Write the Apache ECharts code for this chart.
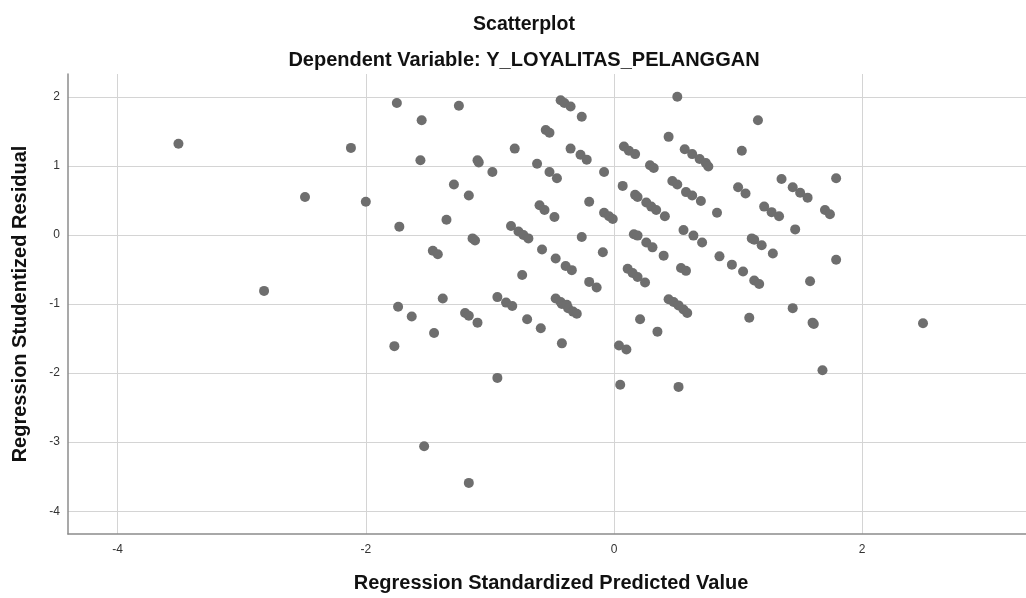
<!DOCTYPE html>
<html>
<head>
<meta charset="utf-8">
<script src="https://cdn.jsdelivr.net/npm/echarts@6/dist/echarts.min.js"></script>
<style>
  html, body { margin: 0; padding: 0; background: #fff; }
  #chart { width: 1026px; height: 598px; }
</style>
</head>
<body>
<div id="chart"></div>
<script>
// standardized predicted value (x) and studentized residual (y)
var predicted = [
  -3.51, -2.82, -2.49, -2.12, -2.00, -1.75, -1.73, -1.74, -1.77, -1.63,
  -1.55, -1.56, -1.46, -1.42, -1.45, -1.38, -1.35, -1.29, -1.25, -1.20,
  -1.17, -1.17, -1.14, -1.12, -1.10, -1.09, -1.10, -0.98, -0.94, -0.94,
  -1.53, -1.17, -0.87, -0.82, -0.80, -0.83, -0.77, -0.73, -0.69, -0.74,
  -0.70, -0.62, -0.60, -0.56, -0.58, -0.59, -0.55, -0.52, -0.52, -0.46,
  -0.48, -0.47, -0.47, -0.43, -0.42, -0.38, -0.37, -0.33, -0.30, -0.42,
  -0.43, -0.40, -0.35, -0.35, -0.39, -0.34, -0.26, -0.27, -0.22, -0.20,
  -0.26, -0.20, -0.14, -0.08, -0.08, -0.04, -0.01, -0.09, 0.04, 0.10,
  0.05, 0.07, 0.08, 0.12, 0.17, 0.17, 0.19, 0.16, 0.19, 0.26,
  0.31, 0.40, 0.11, 0.15, 0.19, 0.25, 0.21, 0.26, 0.30, 0.34,
  0.41, 0.29, 0.32, 0.35, 0.44, 0.51, 0.47, 0.51, 0.44, 0.48,
  0.52, 0.56, 0.59, 0.52, 0.54, 0.58, 0.56, 0.64, 0.71, 0.57,
  0.63, 0.69, 0.74, 0.76, 0.58, 0.63, 0.70, 0.83, 0.85, 0.95,
  1.00, 1.06, 1.03, 1.04, 1.09, 1.11, 1.13, 1.13, 1.17, 1.16,
  1.19, 1.21, 1.27, 1.33, 1.28, 1.35, 1.44, 1.50, 1.56, 1.46,
  1.44, 1.58, 1.60, 1.61, 1.68, 1.70, 1.74, 1.79, 1.79, 2.49
];
var residual = [
  1.32, -0.81, 0.55, 1.26, 0.48, 1.91, 0.12, -1.04, -1.61, -1.18,
  1.66, 1.08, -0.23, -0.28, -1.42, -0.92, 0.22, 0.73, 1.87, -1.13,
  -1.17, 0.57, -0.05, -0.08, 1.08, 1.05, -1.27, 0.91, -0.90, -2.07,
  -3.06, -3.59, -0.98, -1.03, 1.25, 0.13, 0.05, 0.00, -0.05, -0.58,
  -1.22, 1.03, 0.43, 0.36, -0.21, -1.35, 1.52, 1.48, 0.91, 0.82,
  0.26, -0.34, -0.92, -0.97, -1.00, -1.01, -1.06, -1.11, -1.14, -1.57,
  1.95, 1.91, 1.86, 1.25, -0.45, -0.51, 1.71, 1.16, 1.09, 0.48,
  -0.03, -0.68, -0.76, 0.91, 0.32, 0.27, 0.23, -0.25, -1.60, -1.66,
  -2.17, 0.71, 1.28, 1.22, 1.17, 0.58, 0.55, 0.01, -0.01, -0.11,
  -0.18, -0.30, -0.49, -0.55, -0.61, -0.69, -1.22, 0.47, 0.41, 0.36,
  0.27, 1.01, 0.97, -1.40, 1.42, 2.00, 0.78, 0.73, -0.93, -0.97,
  -1.02, -1.08, -1.13, -2.20, -0.48, -0.52, 0.07, -0.01, -0.11, 1.24,
  1.17, 1.10, 1.04, 0.99, 0.62, 0.57, 0.49, 0.32, -0.31, -0.43,
  0.69, 0.60, 1.22, -0.53, -1.20, -0.05, -0.07, -0.66, -0.71, 1.66,
  -0.15, 0.41, 0.33, 0.27, -0.27, 0.81, 0.69, 0.61, 0.54, 0.08,
  -1.06, -0.67, -1.27, -1.29, -1.96, 0.36, 0.30, 0.82, -0.36, -1.28
];
var xRange = [-4.40, 3.32];
var yRange = [-4.33, 2.33];

var points = predicted.map(function (v, i) { return [v, residual[i]]; });

var myChart = echarts.init(document.getElementById('chart'));
var font = 'Liberation Sans, Arial, sans-serif';

option = {
  backgroundColor: '#fff',
  animation: false,
  title: [
    {
      text: 'Scatterplot',
      left: 519, top: 10,
      textAlign: 'center',
      textStyle: { fontFamily: font, fontSize: 19.5, fontWeight: 'bold', color: '#111' }
    },
    {
      text: 'Dependent Variable: Y_LOYALITAS_PELANGGAN',
      left: 519, top: 45,
      textAlign: 'center',
      textStyle: { fontFamily: font, fontSize: 20, fontWeight: 'bold', color: '#111' }
    }
  ],
  grid: { left: 68, right: 0, top: 74, bottom: 62, containLabel: false },
  xAxis: {
    type: 'value',
    min: xRange[0], max: xRange[1],
    splitNumber: 4,
    name: 'Regression Standardized Predicted Value',
    nameLocation: 'middle',
    nameGap: 39,
    nameTextStyle: { fontFamily: font, fontSize: 20, fontWeight: 'bold', color: '#111', padding: [0, 0, 0, 8] },
    axisLine: { show: true, onZero: false, lineStyle: { color: '#8c8c8c', width: 1.5 } },
    axisTick: { show: false },
    axisLabel: {
      fontFamily: font, fontSize: 12, color: '#333', margin: 10,
      showMinLabel: false, showMaxLabel: false
    },
    splitLine: { show: true, showMinLine: false, showMaxLine: false, lineStyle: { color: '#d4d4d4', width: 1 } }
  },
  yAxis: {
    type: 'value',
    min: yRange[0], max: yRange[1],
    splitNumber: 7,
    name: 'Regression Studentized Residual',
    nameLocation: 'middle',
    nameGap: 38,
    nameTextStyle: { fontFamily: font, fontSize: 20, fontWeight: 'bold', color: '#111' },
    axisLine: { show: true, onZero: false, lineStyle: { color: '#8c8c8c', width: 1.5 } },
    axisTick: { show: false },
    axisLabel: {
      fontFamily: font, fontSize: 12, color: '#333', margin: 8,
      showMinLabel: false, showMaxLabel: false
    },
    splitLine: { show: true, showMinLine: false, showMaxLine: false, lineStyle: { color: '#d4d4d4', width: 1 } }
  },
  series: [
    {
      type: 'scatter',
      data: points,
      symbol: 'circle',
      symbolSize: 10,
      itemStyle: { color: '#6e6e6e', opacity: 1 }
    }
  ]
};
myChart.setOption(option);
</script>
</body>
</html>
